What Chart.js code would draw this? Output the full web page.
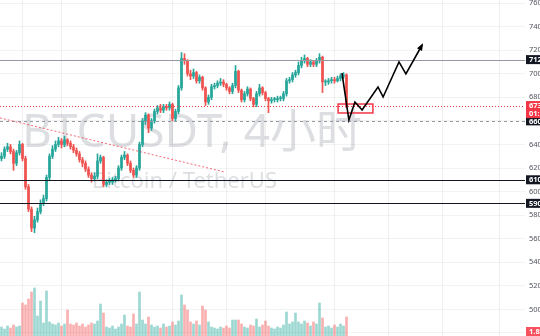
<!DOCTYPE html>
<html>
<head>
<meta charset="utf-8">
<script src="https://cdn.jsdelivr.net/npm/chart.js@4"></script>
<style>
html, body { margin: 0; padding: 0; background: #fff; }
#wrap { width: 540px; height: 336px; }
</style>
</head>
<body>
<div id="wrap"><canvas id="myChart" width="540" height="336"></canvas></div>
<script>
// BTCUSDT 4h candles
const opens = [628,630,636,638,634,624,633,640,628,604,
  585,569,576,583,590,594,612,630,636,640,
  643,640,644,641,638,635,632,627,624,619,
  614,611,613,626,629,606,608,608,610,611,
  620,629,631,624,618,614,620,640,660,665,
  654,660,668,671,669,672,671,674,662,668,
  688,713,711,700,698,701,694,697,688,676,
  680,689,690,692,693,691,688,685,690,702,
  686,678,683,687,679,674,683,688,684,679,
  677,678,678,679,679,683,694,695,699,701,
  707,711,713,708,710,708,711,714,693,693,
  694,695,694,696,698,699];
const closes = [630,636,638,634,624,633,640,628,604,585,
  569,576,583,590,594,612,630,636,640,643,
  640,644,641,638,635,632,627,624,619,614,
  611,613,626,629,606,608,608,610,611,620,
  629,631,624,618,614,620,640,660,665,654,
  660,668,671,669,672,671,674,662,668,688,
  713,711,700,698,701,694,697,688,676,680,
  689,690,692,693,691,688,685,690,702,686,
  678,683,687,679,674,683,688,684,679,677,
  678,678,679,679,683,694,695,699,701,707,
  711,713,708,710,708,711,714,693,693,694,
  695,694,696,698,699,673];
const highs = [633,638,641,640,636,635,643,641,630,606,
  587,579,586,593,597,614,632,639,643,646,
  645,647,645,643,640,637,634,629,626,621,
  616,616,632,631,630,610,611,612,613,622,
  631,634,632,626,620,622,642,662,667,666,
  662,670,673,674,674,674,676,675,670,690,
  718,717,712,703,704,702,699,698,689,682,
  691,692,694,696,695,692,689,692,707,703,
  687,685,689,688,680,685,691,689,685,680,
  680,680,681,681,685,696,697,701,703,710,
  714,716,714,712,711,713,717,715,695,696,
  697,697,698,700,701,700];
const lows = [626,628,634,632,618,622,631,626,602,583,
  566,565,574,581,588,592,610,628,634,638,
  637,638,639,636,633,630,625,621,617,612,
  608,609,611,624,604,604,606,606,608,609,
  618,627,622,616,612,612,618,638,657,650,
  652,658,666,667,667,669,669,660,660,666,
  686,708,698,695,696,692,692,686,673,674,
  678,687,688,690,689,686,683,683,688,684,
  676,676,681,677,672,672,681,682,677,667,
  675,676,676,677,677,681,692,693,697,699,
  705,709,706,706,706,706,709,684,690,691,
  692,692,693,694,696,671];
const volumes = [9,7,10,8,11,9,10,
  33,31,37,44,48,20,35,13,45,
  14,12,11,13,10,12,
  26,
  12,11,13,10,12,9,11,13,12,
  15,32,23,
  9,8,10,7,9,12,
  21,
  10,9,22,12,
  44,16,12,19,
  11,9,10,8,12,9,10,14,11,15,
  41,31,26,
  14,12,15,11,
  30,26,14,
  9,8,7,9,8,10,8,
  16,16,16,
  12,9,8,11,10,
  17,9,11,
  15,10,8,7,9,8,11,
  24,12,14,
  23,14,12,15,13,10,14,12,
  33,18,
  9,10,8,11,9,12,10,
  19];

// time slots (empty space on the right for the projection)
const slotCount = 175;
const slots = Array.from({length: slotCount}, (_, i) => i);
const timeGrid = [7, 20, 57, 75, 88, 111, 129, 147, 166];

// price axis
const tickValues = [480,500,520,540,560,580,600,620,640,660,680,700,720,740,760];
const priceMin = 477.4;
const priceMax = 762.6;

// drawings
const levelValues = [712, 673, 660, 610, 590];
const levelLabels = ['712', '673', '660', '610', '590'];
const trendLine = [[-0.5, 662.5], [74.5, 616.5]];
const arrowPath = [[113.5,700.6],[115.8,660.7],[117.8,676],[120.2,669.2],[125.5,688.8],[127.2,680.3],[132.5,710],[134.8,699.8],[140.2,724.4]];
const zoneBox = [112.2, 123.8, 666.7, 674.3];

const UP = '#26a69a';
const DOWN = '#ef5350';
const isUp = closes.map((c, i) => c >= opens[i]);

const overlay = {
    id: 'overlay',
    beforeDatasetsDraw(chart) {
        const c = chart.ctx;
        c.save();
        c.fillStyle = 'rgba(120,123,134,0.25)';
        c.textBaseline = 'alphabetic';
        c.font = '46px "Noto Sans", "Noto Sans CJK SC", sans-serif';
        c.fillText('BTCUSDT, 4小时', 22, 147);
        c.font = '22px "Noto Sans", sans-serif';
        c.fillText('Bitcoin / TetherUS', 92, 188);
        c.restore();
    },
    afterDatasetsDraw(chart) {
        const c = chart.ctx;
        const x = chart.scales.x, y = chart.scales.y;
        const a = chart.chartArea;
        c.save();
        // horizontal levels
        const styles = [
            {color: '#9598a1', w: 1, dash: []},
            {color: '#f23645', w: 1, dash: [1, 2]},
            {color: '#9598a1', w: 1, dash: [3, 3]},
            {color: '#131722', w: 1.2, dash: []},
            {color: '#131722', w: 1.2, dash: []}
        ];
        levelValues.forEach((v, i) => {
            const py = Math.round(y.getPixelForValue(v)) + 0.5;
            c.strokeStyle = styles[i].color;
            c.lineWidth = styles[i].w;
            c.setLineDash(styles[i].dash);
            c.beginPath();
            c.moveTo(a.left, py);
            c.lineTo(a.right, py);
            c.stroke();
        });
        // trend line
        c.strokeStyle = 'rgba(242,54,69,0.75)';
        c.lineWidth = 1;
        c.setLineDash([2, 2]);
        c.beginPath();
        c.moveTo(x.getPixelForValue(trendLine[0][0]), y.getPixelForValue(trendLine[0][1]));
        c.lineTo(x.getPixelForValue(trendLine[1][0]), y.getPixelForValue(trendLine[1][1]));
        c.stroke();
        c.setLineDash([]);
        // zone
        const zx0 = x.getPixelForValue(zoneBox[0]), zx1 = x.getPixelForValue(zoneBox[1]);
        const zy0 = y.getPixelForValue(zoneBox[3]), zy1 = y.getPixelForValue(zoneBox[2]);
        c.strokeStyle = '#f23645';
        c.lineWidth = 1.5;
        c.strokeRect(zx0, zy0, zx1 - zx0, zy1 - zy0);
        // projection arrow
        const pts = arrowPath.map(p => [x.getPixelForValue(p[0]), y.getPixelForValue(p[1])]);
        c.strokeStyle = '#000';
        c.lineWidth = 1.6;
        c.lineJoin = 'miter';
        c.beginPath();
        pts.forEach((p, i) => i ? c.lineTo(p[0], p[1]) : c.moveTo(p[0], p[1]));
        c.stroke();
        const [px, py] = pts[pts.length - 1];
        const [qx, qy] = pts[pts.length - 2];
        const ang = Math.atan2(py - qy, px - qx);
        c.fillStyle = '#000';
        c.beginPath();
        c.moveTo(px + 2 * Math.cos(ang), py + 2 * Math.sin(ang));
        c.lineTo(px - 6 * Math.cos(ang - 0.5), py - 6 * Math.sin(ang - 0.5));
        c.lineTo(px - 6 * Math.cos(ang + 0.5), py - 6 * Math.sin(ang + 0.5));
        c.closePath();
        c.fill();
        c.restore();
    },
    afterDraw(chart) {
        const c = chart.ctx;
        const y = chart.scales.y;
        const a = chart.chartArea;
        c.save();
        c.font = 'bold 7.5px "Noto Sans", sans-serif';
        c.textBaseline = 'middle';
        const box = (py, text, color) => {
            c.fillStyle = color;
            c.fillRect(a.right + 1, py - 4.5, 20, 9);
            c.fillStyle = '#fff';
            c.fillText(text, a.right + 4, py + 0.5);
        };
        const colors = ['#131722', '#f23645', '#131722', '#131722', '#131722'];
        levelValues.forEach((v, i) => box(y.getPixelForValue(v), levelLabels[i], colors[i]));
        box(y.getPixelForValue(levelValues[1]) + 8, '01:25:11', '#f23645');
        box(chart.height - 4.5, '1.82K', '#f7525f');
        c.restore();
    }
};

const ctx = document.getElementById('myChart').getContext('2d');
const myChart = new Chart(ctx, {
    type: 'bar',
    data: {
        labels: slots,
        datasets: [{
            label: 'Body',
            data: opens.map((o, i) => [o, closes[i]]),
            backgroundColor: isUp.map(u => u ? UP : DOWN),
            barThickness: 2,
            minBarLength: 1,
            grouped: false,
            order: 1
        }, {
            label: 'Wick',
            data: lows.map((l, i) => [l, highs[i]]),
            backgroundColor: isUp.map(u => u ? UP : DOWN),
            barThickness: 1,
            grouped: false,
            order: 2
        }, {
            label: 'Volume',
            data: volumes,
            yAxisID: 'vol',
            backgroundColor: isUp.map(u => u ? 'rgba(38,166,154,0.45)' : 'rgba(239,83,80,0.45)'),
            barThickness: 2,
            grouped: false,
            order: 3
        }]
    },
    options: {
        responsive: false,
        animation: false,
        devicePixelRatio: 1,
        layout: { padding: 0 },
        plugins: { legend: { display: false }, tooltip: { enabled: false } },
        scales: {
            x: {
                type: 'category',
                offset: true,
                ticks: { display: false },
                border: { display: false },
                grid: {
                    offset: false,
                    drawTicks: false,
                    color: c => timeGrid.includes(c.index) ? 'rgba(42,46,57,0.07)' : 'transparent'
                },
                afterFit: s => { s.height = 0; }
            },
            y: {
                position: 'right',
                min: priceMin,
                max: priceMax,
                afterBuildTicks: s => { s.ticks = tickValues.map(v => ({value: v})); },
                afterFit: s => { s.width = 15; s.paddingTop = 0; s.paddingBottom = 0; },
                border: { display: false },
                grid: { drawTicks: false, color: 'rgba(42,46,57,0.06)' },
                ticks: {
                    padding: 4,
                    color: '#50535e',
                    font: { family: 'Noto Sans', size: 7.5 }
                }
            },
            vol: {
                display: false,
                min: 0,
                max: 336
            }
        }
    },
    plugins: [overlay]
});
</script>
</body>
</html>
